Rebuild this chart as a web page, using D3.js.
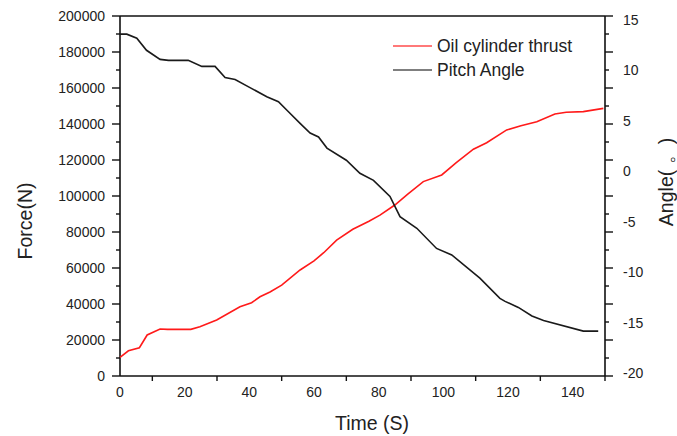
<!DOCTYPE html>
<html>
<head>
<meta charset="utf-8">
<script src="https://cdn.jsdelivr.net/npm/d3@7"></script>
<style>
  body { margin: 0; background: #fff; }
  text { font-family: "Liberation Sans", Arial, sans-serif; fill: #222; }
</style>
</head>
<body>
<div id="chart"></div>
<script>
// values
const forceTime = [0, 2.6, 6, 8.4, 12.4, 14.7, 21.9, 24.7, 29.9, 37.1, 40.7, 43.3, 46.4, 50, 55.7, 60, 63, 67, 72, 77, 80.4, 85, 89, 93.8, 99.5, 104, 109.3, 113.4, 119.6, 124, 128.9, 134.5, 138, 143.3, 149.5];
const forceVal = [10400, 14000, 15700, 22800, 26100, 25900, 25900, 27400, 31100, 38500, 40700, 44000, 46700, 50500, 58900, 64000, 68500, 75500, 81500, 86000, 89400, 95000, 101000, 108000, 111700, 118500, 126000, 129600, 136700, 139000, 141300, 145600, 146500, 146900, 148700];
const angleTime = [0, 2.1, 5.2, 8.2, 12.4, 15, 21.1, 25.3, 29.4, 32.5, 35.6, 40.2, 45.4, 49, 52.1, 55.7, 58.8, 61.4, 64, 70, 74.2, 78.4, 83.5, 86.6, 91.8, 97.9, 102.6, 108.3, 111.3, 117.5, 119.1, 123.2, 127.4, 131, 143.3, 147.9];
const angleVal = [13.6, 13.6, 13.2, 12.0, 11.1, 11.0, 11.0, 10.4, 10.4, 9.3, 9.1, 8.3, 7.4, 6.9, 5.9, 4.75, 3.8, 3.4, 2.3, 1.1, -0.2, -0.9, -2.5, -4.5, -5.65, -7.65, -8.3, -9.8, -10.6, -12.6, -12.9, -13.5, -14.35, -14.8, -15.85, -15.85];

const timeTicks = [0, 20, 40, 60, 80, 100, 120, 140];
const forceTicks = [0, 20000, 40000, 60000, 80000, 100000, 120000, 140000, 160000, 180000, 200000];
const angleTicks = [-20, -15, -10, -5, 0, 5, 10, 15];
const seriesNames = ["Oil cylinder thrust", "Pitch Angle"];
const seriesColors = ["#ff1a1a", "#1a1a1a"];

const W = 677, H = 436,
      margin = {top: 16, left: 120, right: 72, bottom: 60},
      width = W - margin.left - margin.right,
      height = H - margin.top - margin.bottom;

const svg = d3.select('#chart').append('svg')
    .attr('width', W)
    .attr('height', H);
const g = svg.append('g')
    .attr('transform', 'translate(' + margin.left + ',' + margin.top + ')');

const x = d3.scaleLinear().domain([0, 150]).range([0, width]);
const yF = d3.scaleLinear().domain([0, 200000]).range([height, 0]);
const yA = d3.scaleLinear().domain([-20.3, 15.4]).range([height, 0]);

// minor tick positions
const forceMinor = d3.range(10000, 200000, 20000);
const timeMinor = d3.range(10, 151, 20);

// left axis
const left = g.append('g').attr('class', 'y-axis');
left.append('line').attr('x1', 0).attr('x2', 0).attr('y1', 0).attr('y2', height)
    .attr('stroke', '#111').attr('stroke-width', 1.6);
left.selectAll('.maj').data(forceTicks).enter().append('line')
    .attr('x1', -8).attr('x2', 0).attr('y1', d => yF(d)).attr('y2', d => yF(d))
    .attr('stroke', '#111').attr('stroke-width', 1.4);
left.selectAll('.min').data(forceMinor).enter().append('line')
    .attr('x1', -4).attr('x2', 0).attr('y1', d => yF(d)).attr('y2', d => yF(d))
    .attr('stroke', '#111').attr('stroke-width', 1.4);
left.selectAll('text').data(forceTicks).enter().append('text')
    .attr('x', -15).attr('y', d => yF(d)).attr('dy', '0.36em')
    .style('text-anchor', 'end').style('font-size', '14px')
    .text(d => d);

// right axis: line with mirrored force ticks, angle labels
const right = g.append('g').attr('class', 'y-axis-right');
right.append('line').attr('x1', width).attr('x2', width).attr('y1', 0).attr('y2', height)
    .attr('stroke', '#111').attr('stroke-width', 1.6);
right.selectAll('.maj').data(forceTicks).enter().append('line')
    .attr('x1', width).attr('x2', width + 8).attr('y1', d => yF(d)).attr('y2', d => yF(d))
    .attr('stroke', '#111').attr('stroke-width', 1.4);
right.selectAll('.min').data(forceMinor).enter().append('line')
    .attr('x1', width).attr('x2', width + 4).attr('y1', d => yF(d)).attr('y2', d => yF(d))
    .attr('stroke', '#111').attr('stroke-width', 1.4);
right.selectAll('text').data(angleTicks).enter().append('text')
    .attr('x', width + 18).attr('y', d => yA(d)).attr('dy', '0.36em')
    .style('text-anchor', 'start').style('font-size', '14px')
    .text(d => d);

// top line
g.append('line').attr('x1', 0).attr('x2', width).attr('y1', 0).attr('y2', 0)
    .attr('stroke', '#111').attr('stroke-width', 1.6);

// bottom axis
const bottom = g.append('g').attr('class', 'x-axis');
bottom.append('line').attr('x1', 0).attr('x2', width).attr('y1', height).attr('y2', height)
    .attr('stroke', '#111').attr('stroke-width', 1.6);
bottom.selectAll('.min').data(timeMinor).enter().append('line')
    .attr('x1', d => x(d)).attr('x2', d => x(d)).attr('y1', height).attr('y2', height + 5)
    .attr('stroke', '#111').attr('stroke-width', 1.4);
bottom.selectAll('text').data(timeTicks).enter().append('text')
    .attr('x', d => x(d)).attr('y', height + 16).attr('dy', '0.36em')
    .style('text-anchor', 'middle').style('font-size', '14px')
    .text(d => d);

// lines
const forceLine = d3.line().x(d => x(d[0])).y(d => yF(d[1]));
const angleLine = d3.line().x(d => x(d[0])).y(d => yA(d[1]));

g.append('path')
    .datum(forceTime.map((t, i) => [t, forceVal[i]]))
    .attr('d', forceLine)
    .attr('fill', 'none').attr('stroke', seriesColors[0]).attr('stroke-width', 1.6);
g.append('path')
    .datum(angleTime.map((t, i) => [t, angleVal[i]]))
    .attr('d', angleLine)
    .attr('fill', 'none').attr('stroke', seriesColors[1]).attr('stroke-width', 1.6);

// legend
const legend = g.append('g').attr('transform', 'translate(273,30)');
seriesNames.forEach((name, i) => {
  legend.append('line').attr('x1', 0).attr('x2', 39).attr('y1', i * 24).attr('y2', i * 24)
      .attr('stroke', i === 0 ? '#ff4d4d' : '#555').attr('stroke-width', 1.6);
  legend.append('text').attr('x', 44).attr('y', i * 24).attr('dy', '0.36em')
      .style('font-size', '17.5px').text(name);
});

// axis titles
svg.append('text')
    .attr('x', 372).attr('y', 430)
    .style('text-anchor', 'middle').style('font-size', '19.5px')
    .text('Time (S)');
svg.append('text')
    .attr('transform', 'translate(32,221) rotate(-90)')
    .style('text-anchor', 'middle').style('font-size', '19.5px')
    .text('Force(N)');
svg.append('text')
    .attr('transform', 'translate(673,182) rotate(-90)')
    .style('text-anchor', 'middle').style('font-size', '19.5px')
    .text('Angle( 。)');
</script>
</body>
</html>
